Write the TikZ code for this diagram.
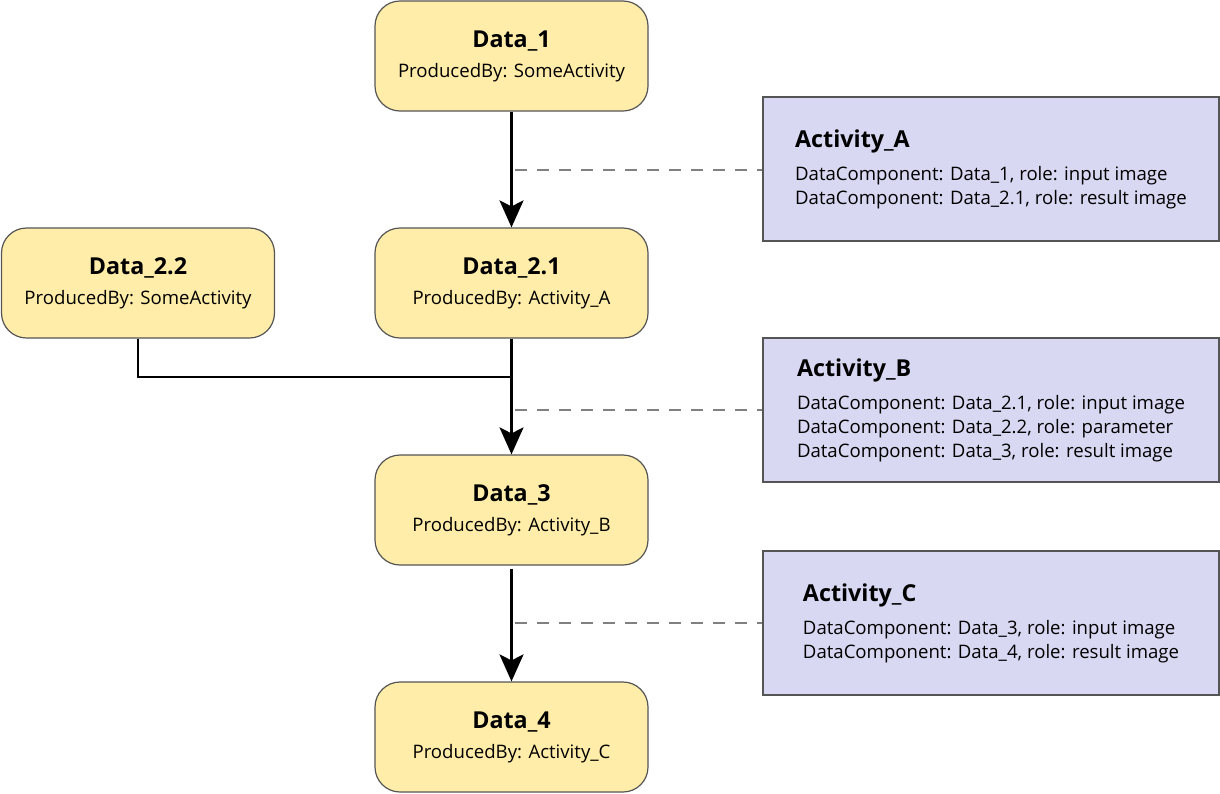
\documentclass[tikz,border=0pt]{standalone}
\usepackage{fontspec}
\setmainfont{Open Sans}
\usetikzlibrary{arrows.meta,calc}
\definecolor{datafill}{HTML}{FFEDA9}
\definecolor{actfill}{HTML}{D9D8F3}
\definecolor{edgegray}{HTML}{555555}
\newcommand{\boxtitle}[1]{{\fontsize{23.3}{26}\selectfont\bfseries #1}}
\tikzset{
  datanode/.style={draw=edgegray, line width=1.2pt, fill=datafill, rounded corners=25pt,
    minimum width=273pt, minimum height=110pt, align=center,
    font=\fontsize{18.6}{22}\selectfont},
  actnode/.style={draw=edgegray, line width=1.2pt, fill=actfill,
    minimum width=456pt, minimum height=144pt, align=left,
    font=\fontsize{18.6}{24}\selectfont},
  flow/.style={line width=2.2pt, -{Stealth[length=27pt,width=24pt,inset=6pt]}},
  joint/.style={line width=2.2pt},
  link/.style={draw=gray, line width=1.8pt, dash pattern=on 12pt off 10pt}
}
\begin{document}
\begin{tikzpicture}[x=1pt, y=-1pt]
        \useasboundingbox (0,0) rectangle (1220,793);

        % Data nodes
        \node[datanode] (d1)  at (511.5,56)  {\boxtitle{Data\_1}\\[8pt]ProducedBy: SomeActivity};
        \node[datanode] (d21) at (511.5,283) {\boxtitle{Data\_2.1}\\[8pt]ProducedBy: Activity\_A};
        \node[datanode] (d22) at (138,283)   {\boxtitle{Data\_2.2}\\[8pt]ProducedBy: SomeActivity};
        \node[datanode] (d3)  at (511.5,510) {\boxtitle{Data\_3}\\[8pt]ProducedBy: Activity\_B};
        \node[datanode] (d4)  at (511.5,737) {\boxtitle{Data\_4}\\[8pt]ProducedBy: Activity\_C};

        % Activity nodes
        \node[actnode] (actA) at (991,169) {\boxtitle{Activity\_A}\\[9pt]
          DataComponent: Data\_1, role: input image\\
          DataComponent: Data\_2.1, role: result image};
        \node[actnode] (actB) at (991,410) {\boxtitle{Activity\_B}\\[9pt]
          DataComponent: Data\_2.1, role: input image\\
          DataComponent: Data\_2.2, role: parameter\\
          DataComponent: Data\_3, role: result image};
        \node[actnode] (actC) at (991,623) {\boxtitle{Activity\_C}\\[9pt]
          DataComponent: Data\_3, role: input image\\
          DataComponent: Data\_4, role: result image};

        % Flow arrows
        \draw[flow] (d1) -- (d21);
        \draw[flow] (d21) -- (d3);
        \draw[flow, shorten <=3pt] (d3) -- (d4);
        \coordinate (jB) at (511.5,377);
        \draw[joint] (d22.south) |- (jB);

        % Links to activities
        \foreach \act/\yy in {actA/170, actB/410, actC/623} {
          \coordinate (l\act) at (515,\yy);
          \draw[link] (l\act) -- (l\act -| \act.west);
        }
      \end{tikzpicture}
\end{document}
